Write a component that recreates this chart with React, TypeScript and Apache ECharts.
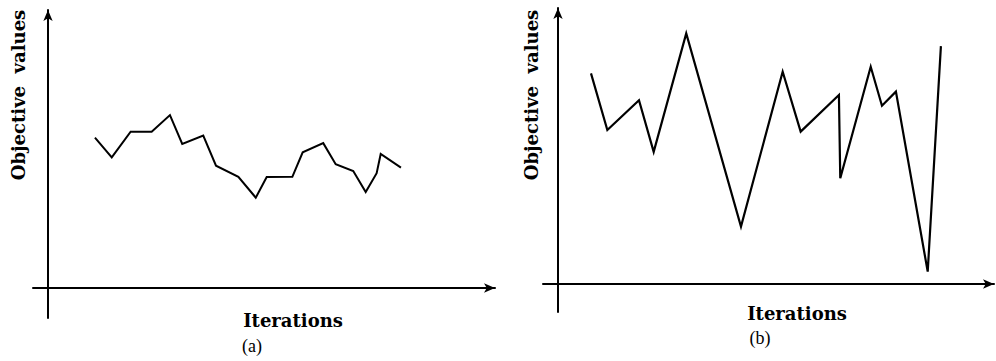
import React, { useEffect, useRef } from "react";
import * as echarts from "echarts";

// Panel (a): iteration positions and objective values
const iterA = [3.13, 4.25, 5.51, 6.91, 8.13, 8.95, 10.35, 11.2, 12.69, 13.85, 14.58, 16.29, 16.98, 18.35, 19.18, 20.35, 21.18, 21.91, 22.18, 23.53];
const valuesA = [54.1, 47.0, 56.2, 56.2, 62.2, 51.8, 54.8, 44.0, 40.0, 32.5, 39.9, 40.0, 48.8, 52.1, 44.5, 42.1, 34.5, 41.3, 48.2, 43.3];

// Panel (b)
const iterB = [2.2, 3.29, 5.4, 6.38, 8.55, 12.2, 14.98, 16.18, 18.73, 18.82, 20.85, 21.6, 22.53, 24.65, 25.53];
const valuesB = [76.3, 55.8, 66.6, 47.9, 90.8, 20.8, 76.9, 55.2, 68.5, 38.3, 78.7, 64.6, 69.7, 4.5, 86.2];

const yAxisName = "Objective  values";
const xAxisName = "Iterations";
const panelLabels = ["(a)", "(b)"];

const pairs = (xs: number[], ys: number[]) => xs.map((x, i) => [x, ys[i]]);

export default function App() {
  const ref = useRef<HTMLDivElement>(null);
  useEffect(() => {
    if (!ref.current) return;
    const chart = echarts.init(ref.current, null, { renderer: "svg" });
    const axisLine = {
      show: true,
      onZero: true,
      symbol: ["none", "arrow"],
      symbolSize: [7, 11],
      lineStyle: { color: "#000", width: 2 },
    };
    const xAx = (gridIndex: number, max: number) => ({
      type: "value",
      gridIndex,
      min: -1,
      max,
      axisLine,
      axisTick: { show: false },
      axisLabel: { show: false },
      splitLine: { show: false },
    });
    const yAx = (gridIndex: number, min: number) => ({
      type: "value",
      gridIndex,
      min,
      max: 100,
      axisLine,
      axisTick: { show: false },
      axisLabel: { show: false },
      splitLine: { show: false },
    });
    const nameFont = {
      fontFamily: "DejaVu Serif",
      fontWeight: "bold",
      fontSize: 18,
      fill: "#000",
    };
    const panelFont = { fontFamily: "Liberation Serif", fontSize: 18, fill: "#000" };
    chart.setOption({
      animation: false,
      backgroundColor: "#fff",
      grid: [
        { left: 33, right: 996 - 495, top: 10, bottom: 361 - 318 },
        { left: 543, right: 2, top: 8, bottom: 361 - 312 },
      ],
      xAxis: [xAx(0, 29.8), xAx(1, 29.07)],
      yAxis: [yAx(0, -10.8), yAx(1, -10.14)],
      series: [
        {
          type: "line",
          xAxisIndex: 0,
          yAxisIndex: 0,
          data: pairs(iterA, valuesA),
          symbol: "none",
          lineStyle: { color: "#000", width: 2, join: "miter" },
        },
        {
          type: "line",
          xAxisIndex: 1,
          yAxisIndex: 1,
          data: pairs(iterB, valuesB),
          symbol: "none",
          lineStyle: { color: "#000", width: 2.2, join: "miter" },
        },
      ],
      graphic: [
        { type: "text", x: 18, y: 95, rotation: Math.PI / 2, style: { ...nameFont, text: yAxisName, align: "center", verticalAlign: "middle" } },
        { type: "text", x: 531, y: 95, rotation: Math.PI / 2, style: { ...nameFont, text: yAxisName, align: "center", verticalAlign: "middle" } },
        { type: "text", x: 293, y: 320, style: { ...nameFont, text: xAxisName, align: "center", verticalAlign: "middle" } },
        { type: "text", x: 797, y: 313, style: { ...nameFont, text: xAxisName, align: "center", verticalAlign: "middle" } },
        { type: "text", x: 252, y: 346, style: { ...panelFont, text: panelLabels[0], align: "center", verticalAlign: "middle" } },
        { type: "text", x: 760, y: 338, style: { ...panelFont, text: panelLabels[1], align: "center", verticalAlign: "middle" } },
      ],
    });
    return () => chart.dispose();
  }, []);
  return <div ref={ref} style={{ position: "absolute", left: 0, top: 0, width: 996, height: 361 }} />;
}
